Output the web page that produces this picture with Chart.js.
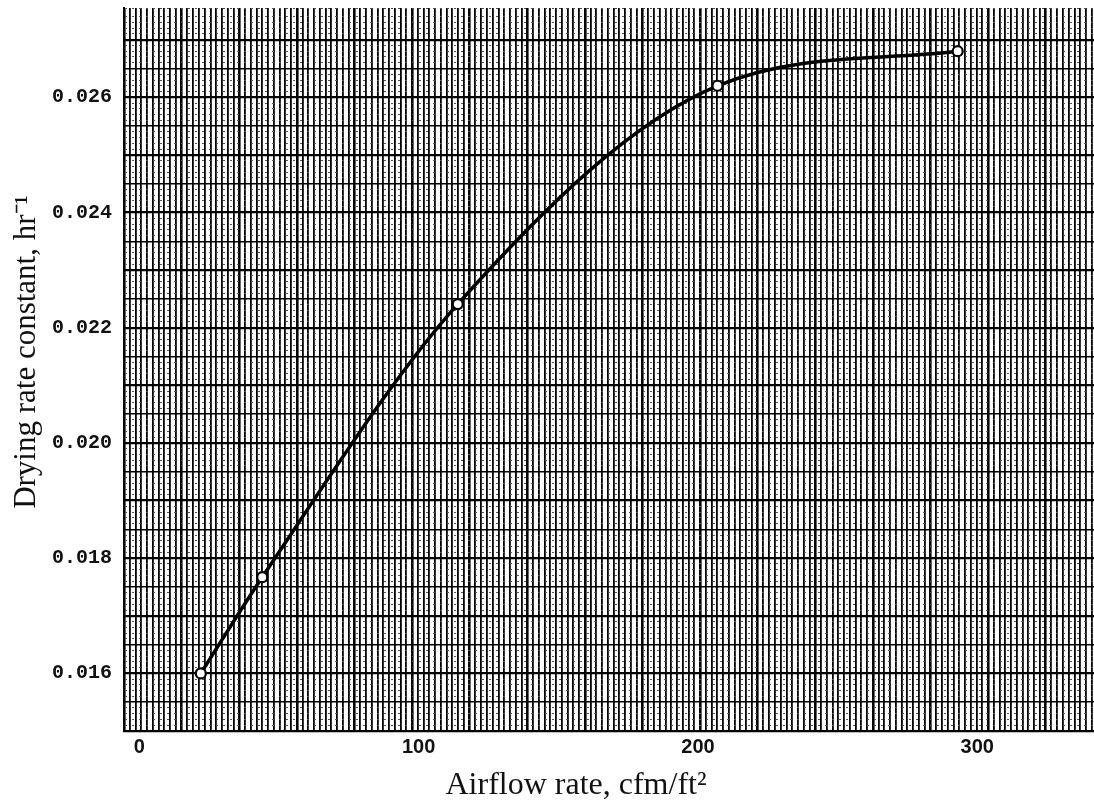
<!DOCTYPE html>
<html><head><meta charset="utf-8">
<script src="https://cdn.jsdelivr.net/npm/chart.js@4.4.1/dist/chart.umd.min.js"></script>
<style>html,body{margin:0;padding:0;background:#fff;overflow:hidden}#wrap{width:1094px;height:802px;position:relative}</style>
</head><body><div id="wrap"><canvas id="c" width="1094" height="802"></canvas></div>
<script>
// ---- data ----
const airflow = [22, 44, 114, 207, 293];
const dryingRate = [0.0160, 0.01767, 0.02241, 0.02620, 0.02680];
const xTickLabels = [0, 100, 200, 300];
const yTickLabels = [0.016, 0.018, 0.020, 0.022, 0.024, 0.026];
const xTitle = 'Airflow rate, cfm/ft\u00B2';
const yTitle = 'Drying rate constant, hr\u207B\u00B9';

const isLabel = (arr, v, tol) => arr.some(t => Math.abs(t - v) < tol);

const titlesPlugin = {
  id: 'titles',
  afterDraw(chart) {
    const ctx = chart.ctx;
    ctx.save();
    ctx.fillStyle = '#111';
    ctx.font = '32px "Liberation Serif", "Times New Roman", serif';
    ctx.textAlign = 'center';
    ctx.textBaseline = 'middle';
    ctx.fillText(xTitle, 576, 786);
    ctx.font = '31px "Liberation Serif", "Times New Roman", serif';
    ctx.translate(27, 352);
    ctx.rotate(-Math.PI / 2);
    ctx.fillText(yTitle, 0, 0);
    ctx.restore();
  }
};

const noPad = s => { s.paddingTop = 0; s.paddingBottom = 0; s.paddingLeft = 0; s.paddingRight = 0; };

new Chart(document.getElementById('c'), {
  type: 'line',
  data: {
    datasets: [{
      data: airflow.map((x, i) => ({x, y: dryingRate[i]})),
      borderColor: '#000',
      borderWidth: 3.5,
      cubicInterpolationMode: 'monotone',
      pointRadius: 5,
      pointBorderWidth: 2.2,
      pointBorderColor: '#000',
      pointBackgroundColor: '#fff',
      fill: false
    }]
  },
  options: {
    responsive: false,
    animation: false,
    layout: {autoPadding: false, padding: {top: 8, right: 0, left: 0, bottom: 0}},
    plugins: {legend: {display: false}, tooltip: {enabled: false}},
    scales: {
      x: {
        type: 'linear', position: 'bottom',
        min: -5.5, max: 341.8,
        grid: {display: false, drawTicks: false},
        border: {display: true, color: '#000', width: 2},
        ticks: {
          stepSize: 100, includeBounds: false, autoSkip: false, maxRotation: 0,
          padding: 4, color: '#111',
          font: {family: '"Liberation Sans", Arial, sans-serif', size: 20, weight: 'bold'},
          callback: v => isLabel(xTickLabels, v, 1e-6) ? String(v) : ''
        },
        afterFit: s => { s.height = 71; noPad(s); }
      },
      xg: {
        type: 'linear', position: 'bottom',
        min: 0, max: 168.4,
        ticks: {display: false, stepSize: 1, autoSkip: false, includeBounds: false},
        grid: {
          drawTicks: false,
          color: '#000',
          lineWidth: c => (Math.round(c.tick.value) % 10 === 0) ? 2.6 : 1.8
        },
        border: {display: false},
        afterFit: s => { s.height = 0; noPad(s); }
      },
      y: {
        type: 'linear', position: 'left',
        min: 0.015, max: 0.02755,
        ticks: {
          stepSize: 0.0001, autoSkip: false, includeBounds: true,
          padding: 12, color: '#111',
          font: {family: '"Liberation Mono", "DejaVu Sans Mono", monospace', size: 20, weight: 'bold'},
          callback: v => isLabel(yTickLabels, v, 1e-7) ? v.toFixed(3) : ''
        },
        grid: {
          drawTicks: false,
          color: c => {
            const k = Math.round(c.tick.value * 10000);
            return (k % 5 === 0) ? '#000' : '#555';
          },
          lineWidth: c => {
            const k = Math.round(c.tick.value * 10000);
            return (k % 10 === 0) ? 2.2 : (k % 5 === 0) ? 1.4 : 1;
          }
        },
        border: {
          display: true, color: '#000', width: 2,
          dash: c => {
            if (!c.tick) return [];
            const k = Math.round(c.tick.value * 10000);
            return (k % 5 === 0) ? [] : [2, 5];
          }
        },
        afterFit: s => { s.width = 124; noPad(s); }
      }
    }
  },
  plugins: [titlesPlugin]
});
</script>
</body></html>
